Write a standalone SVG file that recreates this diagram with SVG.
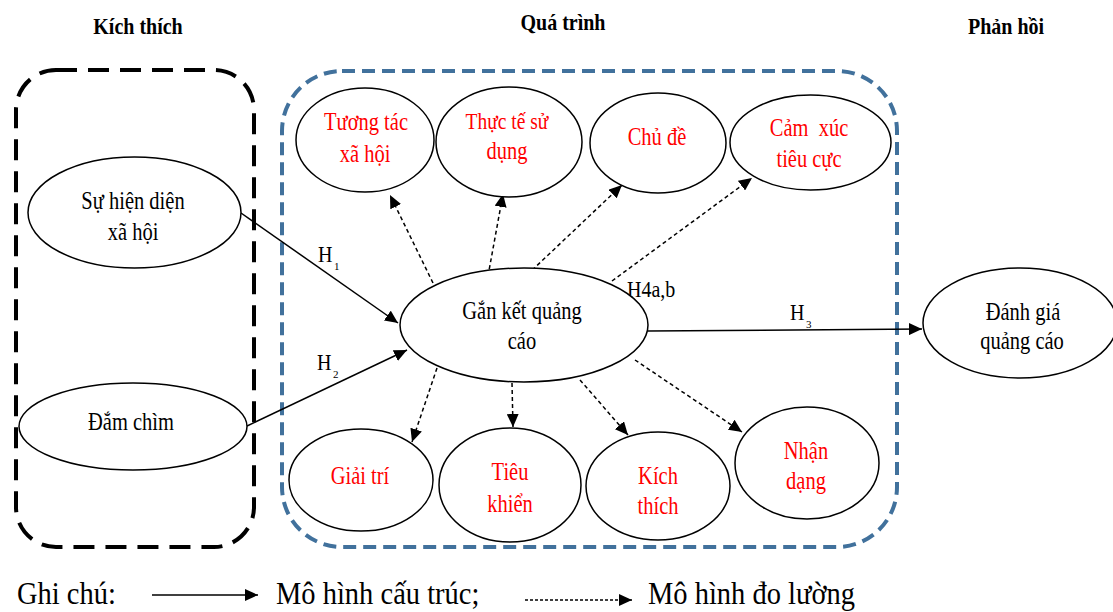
<svg xmlns="http://www.w3.org/2000/svg" width="1113" height="612" viewBox="0 0 1113 612">
<style>
.t{font-family:"Liberation Serif","Times New Roman",serif;font-size:20.5px;text-anchor:middle;fill:#000}
.r{fill:#FF0000}
.b{font-family:"Liberation Serif","Times New Roman",serif;font-size:20px;font-weight:bold;text-anchor:middle;fill:#000}
.h{font-family:"Liberation Serif","Times New Roman",serif;font-size:20px;fill:#000}
.s{font-family:"Liberation Serif","Times New Roman",serif;font-size:11px;fill:#000}
.lg{font-family:"Liberation Serif","Times New Roman",serif;font-size:28.5px;fill:#000}
.e{fill:#fff;stroke:#000;stroke-width:1.5}
.sol{stroke:#000;stroke-width:1.5;fill:none;marker-end:url(#ah)}
.dsh{stroke:#000;stroke-width:1.5;fill:none;stroke-dasharray:4 3;marker-end:url(#ah)}
</style>
<defs>
<marker id="ah" markerUnits="userSpaceOnUse" markerWidth="14" markerHeight="12" refX="13" refY="6" orient="auto">
<path d="M0,0 L13,6 L0,12 Z" fill="#000"/>
</marker>
</defs>
<rect width="1113" height="612" fill="#fff"/>

<g id="titles">
<text class="b" transform="translate(138,34) scale(1,1.2)" xml:space="preserve">Kích thích</text>
<text class="b" transform="translate(563,30) scale(1,1.2)">Quá trình</text>
<text class="b" transform="translate(1006,34) scale(1,1.2)">Phản hồi</text>
</g>

<g id="group-kich-thich">
<rect x="16" y="70" width="238" height="477" rx="40" fill="none" stroke="#000" stroke-width="4" stroke-dasharray="21 11"/>
</g>
<g id="group-qua-trinh">
<rect x="282" y="71" width="615" height="476" rx="60" fill="none" stroke="#41719C" stroke-width="4" stroke-dasharray="13 7"/>
</g>

<g id="connectors">
<line class="sol" x1="241" y1="213" x2="398" y2="323"/>
<line class="sol" x1="247" y1="426" x2="407" y2="350"/>
<line class="sol" x1="648" y1="331" x2="922" y2="329"/>
<line class="dsh" x1="433" y1="283" x2="390" y2="195"/>
<line class="dsh" x1="488" y1="276" x2="503" y2="194"/>
<line class="dsh" x1="527" y1="275" x2="622" y2="185"/>
<line class="dsh" x1="612" y1="281" x2="752" y2="178"/>
<line class="dsh" x1="437" y1="368" x2="412" y2="442"/>
<line class="dsh" x1="512" y1="383" x2="513" y2="427"/>
<line class="dsh" x1="580" y1="380" x2="628" y2="435"/>
<line class="dsh" x1="635" y1="360" x2="742" y2="432"/>
<text class="h" transform="translate(318,262) scale(1,1.2)">H</text>
<text class="s" x="334" y="270">1</text>
<text class="h" transform="translate(317,370) scale(1,1.2)">H</text>
<text class="s" x="333" y="378">2</text>
<text class="h" transform="translate(790,320) scale(1,1.2)">H</text>
<text class="s" x="806" y="328">3</text>
<text class="h" transform="translate(627,297) scale(1,1.2)">H4a,b</text>
</g>

<g id="node-su-hien-dien">
<ellipse class="e" cx="134.5" cy="212.5" rx="106.5" ry="55.5"/>
<text class="t" transform="translate(133,209) scale(1,1.2)">Sự hiện diện</text>
<text class="t" transform="translate(133,240) scale(1,1.2)">xã hội</text>
</g>
<g id="node-dam-chim">
<ellipse class="e" cx="133" cy="426.5" rx="114" ry="43.5"/>
<text class="t" transform="translate(131,430) scale(1,1.2)">Đắm chìm</text>
</g>
<g id="node-tuong-tac">
<ellipse class="e" cx="365" cy="140" rx="69" ry="52"/>
<text class="t r" transform="translate(366,130) scale(1,1.2)">Tương tác</text>
<text class="t r" transform="translate(365,162) scale(1,1.2)">xã hội</text>
</g>
<g id="node-thuc-te">
<ellipse class="e" cx="509" cy="142" rx="73" ry="55"/>
<text class="t r" transform="translate(507,129) scale(1,1.2)" style="font-size:19.5px">Thực tế sử</text>
<text class="t r" transform="translate(507,159) scale(1,1.2)">dụng</text>
</g>
<g id="node-chu-de">
<ellipse class="e" cx="658" cy="143" rx="68" ry="50"/>
<text class="t r" transform="translate(657,145) scale(1,1.2)">Chủ đề</text>
</g>
<g id="node-cam-xuc">
<ellipse class="e" cx="810.5" cy="142.5" rx="80.5" ry="47.5"/>
<text class="t r" transform="translate(809,136) scale(1,1.2)" xml:space="preserve">Cảm  xúc</text>
<text class="t r" transform="translate(809,167) scale(1,1.2)">tiêu cực</text>
</g>
<g id="node-gan-ket">
<ellipse class="e" cx="524" cy="325" rx="124" ry="57"/>
<text class="t" transform="translate(522,319) scale(1,1.2)">Gắn kết quảng</text>
<text class="t" transform="translate(522,349) scale(1,1.2)">cáo</text>
</g>
<g id="node-giai-tri">
<ellipse class="e" cx="361" cy="480" rx="72" ry="51"/>
<text class="t r" transform="translate(360,484) scale(1,1.2)">Giải trí</text>
</g>
<g id="node-tieu-khien">
<ellipse class="e" cx="510" cy="485" rx="71" ry="57"/>
<text class="t r" transform="translate(510,480) scale(1,1.2)">Tiêu</text>
<text class="t r" transform="translate(510,512) scale(1,1.2)">khiển</text>
</g>
<g id="node-kich-thich">
<ellipse class="e" cx="658" cy="486" rx="72" ry="54"/>
<text class="t r" transform="translate(658,484) scale(1,1.2)">Kích</text>
<text class="t r" transform="translate(658,514) scale(1,1.2)">thích</text>
</g>
<g id="node-nhan-dang">
<ellipse class="e" cx="807" cy="463" rx="72" ry="56"/>
<text class="t r" transform="translate(806,459) scale(1,1.2)">Nhận</text>
<text class="t r" transform="translate(806,489) scale(1,1.2)">dạng</text>
</g>
<g id="node-danh-gia">
<ellipse class="e" cx="1020" cy="323" rx="97" ry="55"/>
<text class="t" transform="translate(1023,320) scale(1,1.2)">Đánh giá</text>
<text class="t" transform="translate(1022,349) scale(1,1.2)">quảng cáo</text>
</g>

<g id="legend">
<text class="lg" transform="translate(17,604) scale(1,1.12)">Ghi chú:</text>
<line class="sol" x1="152" y1="595" x2="258" y2="595"/>
<text class="lg" transform="translate(276,604) scale(1,1.12)">Mô hình cấu trúc;</text>
<line class="dsh" x1="525" y1="600" x2="632" y2="600" style="stroke-dasharray:3 2;stroke-width:1.3"/>
<text class="lg" transform="translate(648,604) scale(1,1.12)">Mô hình đo lường</text>
</g>
</svg>
